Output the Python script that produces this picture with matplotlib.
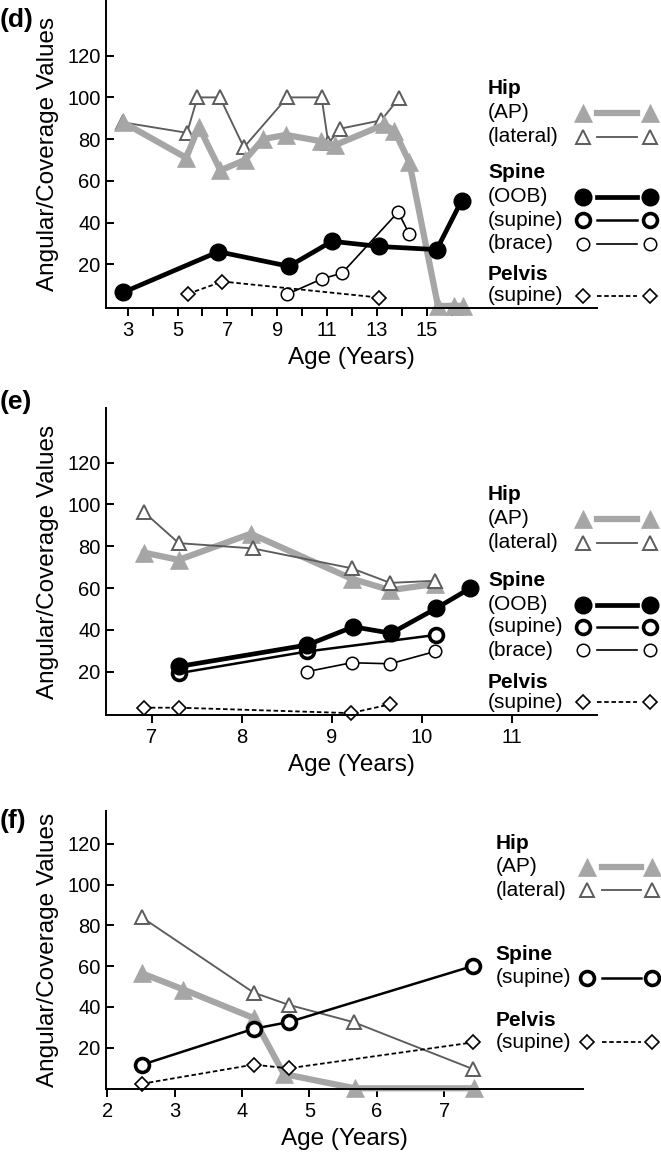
import matplotlib
matplotlib.use("Agg")
import matplotlib.pyplot as plt
from matplotlib.lines import Line2D
from matplotlib.transforms import Affine2D

plt.rcParams["font.family"] = ["Liberation Sans", "DejaVu Sans"]

# ── data ──────────────────────────────────────────────────────────────────────
# panel (d)
d_ap_x = [2.82, 5.35, 5.85, 6.72, 7.7, 8.43, 9.35, 10.75, 11.3, 13.3, 13.7, 14.3, 15.45, 16.1, 16.45]
d_ap_y = [88, 71, 86, 65, 70, 80, 82, 79, 77, 87, 84, 69, 0, 0, 0]
d_lat_x = [2.82, 5.38, 5.8, 6.7, 7.66, 9.4, 10.78, 11.05, 11.53, 13.17, 13.88]
d_lat_y = [88, 83, 100, 100, 76, 100, 100, 78, 85, 89, 99.5]
d_oob_x = [2.82, 6.64, 9.47, 11.2, 13.1, 15.4, 16.4]
d_oob_y = [6.5, 26, 19, 31, 28.5, 27, 50.5]
d_brace_x = [9.38, 10.8, 11.6, 13.85, 14.3]
d_brace_y = [5.5, 13, 15.7, 45, 34.5]
d_pelvis_x = [5.42, 6.8, 13.1]
d_pelvis_y = [5.8, 11.7, 4]

# panel (e)
e_ap_x = [6.91, 7.3, 8.1, 9.22, 9.65, 10.15]
e_ap_y = [77, 73.5, 86, 64.5, 59, 62]
e_lat_x = [6.91, 7.3, 8.12, 9.22, 9.65, 10.15]
e_lat_y = [96.5, 81.5, 79, 69.5, 62.5, 63.5]
e_oob_x = [7.3, 8.73, 9.24, 9.66, 10.16, 10.54]
e_oob_y = [22.5, 32.8, 41.5, 38.4, 50.3, 60]
e_sup_x = [7.3, 8.73, 10.16]
e_sup_y = [19.3, 29.7, 37.6]
e_brace_x = [8.72, 9.22, 9.65, 10.15]
e_brace_y = [20, 24.3, 23.8, 29.7]
e_pelvis_x = [6.91, 7.3, 9.21, 9.65]
e_pelvis_y = [2.8, 2.8, 0.2, 4.4]

# panel (f)
f_ap_x = [2.51, 3.13, 4.17, 4.62, 5.67, 7.44]
f_ap_y = [56.5, 48.5, 34.5, 7, 0, 0]
f_lat_x = [2.51, 4.17, 4.69, 5.66, 7.42]
f_lat_y = [84, 47, 41, 32.4, 9.5]
f_sup_x = [2.51, 4.17, 4.69, 7.42]
f_sup_y = [11.5, 29.2, 32.5, 60]
f_pelvis_x = [2.51, 4.17, 4.69, 7.42]
f_pelvis_y = [2.2, 11.6, 9.8, 22.5]

y_ticks = [20, 40, 60, 80, 100, 120]

# ── styles ───────────────────────────────────────────────────────────────────
GREY = "#a6a6a6"
DGREY = "#5c5c5c"
STY = {
    "ap":     dict(color=GREY, lw=4.5, marker="^", ms=13, mfc=GREY, mec=GREY, mew=0.5),
    "lat":    dict(color=DGREY, lw=1.35, marker="^", ms=9.5, mfc="white", mec=DGREY, mew=1.4),
    "oob":    dict(color="black", lw=3.4, marker="o", ms=12, mfc="black", mec="black"),
    "sup":    dict(color="black", lw=1.8, marker="o", ms=10, mfc="white", mec="black", mew=2.6),
    "brace":  dict(color="black", lw=1.2, marker="o", ms=9, mfc="white", mec="black", mew=1.1),
    "pelvis": dict(color="black", lw=1.3, ls=(0, (2.5, 1.5)), marker="D", ms=7,
                   mfc="white", mec="black", mew=1.2),
}

W, H = 661, 1152
fig = plt.figure(figsize=(W / 100, H / 100), dpi=100)
PX = Affine2D().scale(1 / W, -1 / H).translate(0, 1) + fig.transFigure


def make_ax(left, top, right, bottom, xlim, ylim, ticks, labels):
    ax = fig.add_axes([left / W, 1 - bottom / H, (right - left) / W, (bottom - top) / H])
    ax.set_xlim(*xlim)
    ax.set_ylim(*ylim)
    for s in ("top", "right"):
        ax.spines[s].set_visible(False)
    for s in ("left", "bottom"):
        ax.spines[s].set_linewidth(1.4)
    ax.set_xticks(ticks)
    ax.set_xticklabels(labels)
    ax.set_yticks(y_ticks)
    ax.tick_params(axis="x", direction="out", length=6, width=1.4, labelsize=14.5, pad=3.5)
    ax.tick_params(axis="y", direction="in", length=6, width=1.4, labelsize=14.5, pad=4)
    ax.set_xlabel("Age (Years)", fontsize=17.5, labelpad=5)
    ax.set_ylabel("Angular/Coverage Values", fontsize=17.5, labelpad=6)
    return ax


def legend(rows, tx, mx0, lx0, lx1, mx1):
    for kind, label, y in rows:
        if kind is None:
            fig.text(tx, y, label, transform=PX, fontsize=15, fontweight="bold", va="center")
            continue
        fig.text(tx, y, label, transform=PX, fontsize=15, va="center")
        st = dict(STY[kind])
        mk = {k: st.pop(k) for k in ("marker", "ms", "mfc", "mec", "mew") if k in st}
        fig.add_artist(Line2D([lx0, lx1], [y, y], transform=PX, **st))
        fig.add_artist(Line2D([mx0, mx1], [y, y], transform=PX, ls="none", **mk))


def panel_label(txt, y):
    fig.text(0, y, txt, transform=PX, fontsize=19, fontweight="bold", va="center")


# ── (d) ──────────────────────────────────────────────────────────────────────
d_ticks = list(range(3, 17))
ax = make_ax(106, 0, 596.7, 308, (2.129, 21.82), (-1, 146.7), d_ticks,
             [str(t) if t % 2 else "" for t in d_ticks])
ax.plot(d_lat_x, d_lat_y, **STY["lat"], clip_on=False)
ax.plot(d_ap_x, d_ap_y, **STY["ap"], clip_on=False)
ax.plot(d_brace_x, d_brace_y, **STY["brace"], clip_on=False)
ax.plot(d_pelvis_x, d_pelvis_y, **STY["pelvis"], clip_on=False)
ax.plot(d_oob_x, d_oob_y, **STY["oob"], clip_on=False)
panel_label("(d)", 20)
legend([(None, "Hip", 88), ("ap", "(AP)", 112.7), ("lat", "(lateral)", 136.7),
        (None, "Spine", 173), ("oob", "(OOB)", 197), ("sup", "(supine)", 220),
        ("brace", "(brace)", 243.5), (None, "Pelvis", 275), ("pelvis", "(supine)", 295.5)],
       488, 582.7, 596.7, 636.7, 650)

# ── (e) ──────────────────────────────────────────────────────────────────────
e_ticks = [7, 8, 9, 10, 11]
ax = make_ax(106, 408.3, 596.7, 715, (6.492, 11.944), (-0.7, 146), e_ticks,
             [str(t) for t in e_ticks])
ax.plot(e_ap_x, e_ap_y, **STY["ap"], clip_on=False)
ax.plot(e_lat_x, e_lat_y, **STY["lat"], clip_on=False)
ax.plot(e_brace_x, e_brace_y, **STY["brace"], clip_on=False)
ax.plot(e_pelvis_x, e_pelvis_y, **STY["pelvis"], clip_on=False)
ax.plot(e_sup_x, e_sup_y, **STY["sup"], clip_on=False)
ax.plot(e_oob_x, e_oob_y, **STY["oob"], clip_on=False)
panel_label("(e)", 402)
legend([(None, "Hip", 495), ("ap", "(AP)", 518.5), ("lat", "(lateral)", 543),
        (None, "Spine", 580), ("oob", "(OOB)", 604.5), ("sup", "(supine)", 627),
        ("brace", "(brace)", 650), (None, "Pelvis", 682), ("pelvis", "(supine)", 702)],
       488, 583.3, 596.7, 637.3, 650)

# ── (f) ──────────────────────────────────────────────────────────────────────
f_ticks = [2, 3, 4, 5, 6, 7]
ax = make_ax(106, 810.7, 583.3, 1089.3, (1.981, 9.062), (-0.5, 136.3), f_ticks,
             [str(t) for t in f_ticks])
ax.plot(f_lat_x, f_lat_y, **STY["lat"], clip_on=False)
ax.plot(f_ap_x, f_ap_y, **STY["ap"], clip_on=False)
ax.plot(f_pelvis_x, f_pelvis_y, **STY["pelvis"], clip_on=False)
ax.plot(f_sup_x, f_sup_y, **STY["sup"], clip_on=False)
panel_label("(f)", 821)
legend([(None, "Hip", 843.3), ("ap", "(AP)", 866.7), ("lat", "(lateral)", 890),
        (None, "Spine", 955), ("sup", "(supine)", 977.5),
        (None, "Pelvis", 1020.7), ("pelvis", "(supine)", 1042)],
       495.7, 587.3, 601.7, 640.7, 651.7)

fig.savefig("out.png", dpi=100)
